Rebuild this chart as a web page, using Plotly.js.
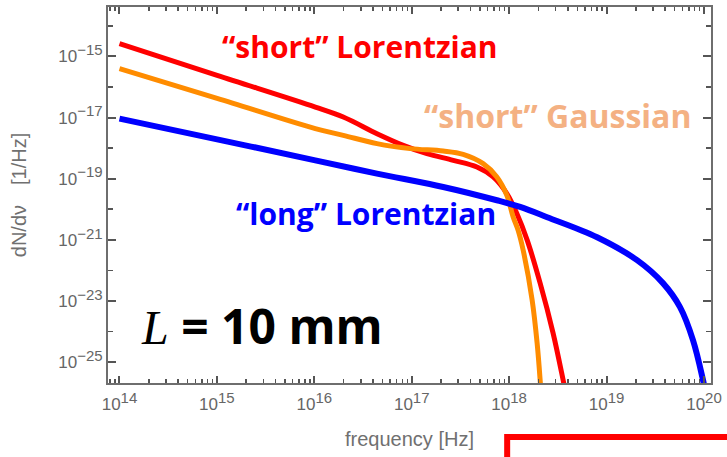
<!DOCTYPE html>
<html>
<head>
<meta charset="utf-8">
<script src="https://cdn.plot.ly/plotly-3.0.1.min.js"></script>
<style>html,body{margin:0;padding:0;background:#fff;}#chart{width:727px;height:457px;}</style>
</head>
<body>
<div id="chart"></div>
<script>
// ---- data (log10 frequency in Hz, log10 dN/dnu in 1/Hz) ----
const shortLorentzLogF = [14.0, 15.002, 16.010, 16.297, 16.643, 16.913, 17.156, 17.426, 17.669, 17.836, 17.976, 18.079, 18.185, 18.318, 18.451, 18.554, 18.585];
const shortLorentzLogY = [-14.58, -15.621, -16.657, -16.984, -17.526, -17.908, -18.180, -18.399, -18.618, -18.944, -19.487, -20.141, -21.01, -22.418, -24.052, -25.588, -26.08];

const shortGaussLogF = [14.0, 15.002, 16.010, 16.297, 16.643, 16.985, 17.323, 17.528, 17.733, 17.874, 17.976, 18.041, 18.092, 18.144, 18.236, 18.287, 18.318, 18.328];
const shortGaussLogY = [-15.402, -16.373, -17.363, -17.582, -17.853, -18.016, -18.095, -18.203, -18.507, -18.944, -19.542, -20.252, -20.686, -21.340, -22.974, -24.379, -25.588, -26.08];

const longLorentzLogF = [14.0, 15.002, 16.010, 16.643, 17.323, 17.874, 18.113, 18.390, 18.903, 19.313, 19.579, 19.754, 19.887, 19.990, 20.01];
const longLorentzLogY = [-17.036, -17.712, -18.399, -18.833, -19.271, -19.706, -19.925, -20.261, -20.915, -21.667, -22.418, -23.203, -24.281, -25.588, -25.9];

const seriesNames = ['“short” Lorentzian', '“short” Gaussian', '“long” Lorentzian'];

// tick labels (exponents of ten)
const xTickExp = [14, 15, 16, 17, 18, 19, 20];
const yTickExp = [-15, -17, -19, -21, -23, -25];

// ---- build ----
const pow10 = a => a.map(v => Math.pow(10, v));
const supFmt = e => '10<sup><span style="font-size:15px">' + String(e).replace('-', '−') + '</span></sup>';

// pixel -> paper helpers for text placement
const PL = 107.5, PT = 6.5, PW = 603.5, PH = 376.5;
const px = x => (x - PL) / PW;
const py = y => (PT + PH - y) / PH;

const traces = [
  {x: pow10(shortLorentzLogF), y: pow10(shortLorentzLogY), name: seriesNames[0], mode: 'lines',
   line: {color: '#FF0000', width: 5, shape: 'spline', smoothing: 1.0}},
  {x: pow10(shortGaussLogF), y: pow10(shortGaussLogY), name: seriesNames[1], mode: 'lines',
   line: {color: '#FF8C00', width: 5, shape: 'spline', smoothing: 1.0}},
  {x: pow10(longLorentzLogF), y: pow10(longLorentzLogY), name: seriesNames[2], mode: 'lines',
   line: {color: '#0000FF', width: 6, shape: 'spline', smoothing: 1.0}}
];

const tickFont = {family: 'Liberation Sans, Arial, sans-serif', size: 17, color: '#666666'};
const titleFont = {family: 'Liberation Sans, Arial, sans-serif', size: 20, color: '#707070'};

const layout = {
  width: 727, height: 457,
  margin: {l: PL, r: 727 - PL - PW, t: PT, b: 457 - PT - PH},
  paper_bgcolor: '#ffffff', plot_bgcolor: '#ffffff',
  showlegend: false,
  xaxis: {
    type: 'log', range: [13.882, 20.072], showgrid: false, zeroline: false,
    showline: true, linecolor: '#6e6e6e', linewidth: 2, mirror: 'ticks',
    ticks: 'inside', ticklen: 7, tickwidth: 2, tickcolor: '#555555', tickfont: tickFont,
    ticklabelstandoff: 5,
    tickmode: 'array', tickvals: pow10(xTickExp), ticktext: xTickExp.map(supFmt),
    minor: {ticks: 'inside', ticklen: 4, tickwidth: 1.5, tickcolor: '#555555', dtick: 'D1', showgrid: false},
    title: {text: 'frequency [Hz]', font: titleFont, standoff: 19}
  },
  yaxis: {
    type: 'log', range: [-25.686, -13.382], showgrid: false, zeroline: false,
    showline: true, linecolor: '#6e6e6e', linewidth: 2, mirror: 'ticks',
    ticks: 'inside', ticklen: 8, tickwidth: 2, tickcolor: '#555555', tickfont: tickFont,
    tickmode: 'array', tickvals: pow10(yTickExp), ticktext: yTickExp.map(supFmt),
    minor: {ticks: 'inside', ticklen: 5, tickwidth: 1.5, tickcolor: '#555555', dtick: 1, showgrid: false},
    title: {text: '\u2003dN/dν\u2002\u2002[1/Hz]', font: titleFont, standoff: 26}
  },
  annotations: [
    {xref: 'paper', yref: 'paper', x: px(360), y: py(46), xanchor: 'center', yanchor: 'middle', showarrow: false,
     text: '<b>' + seriesNames[0] + '</b>', font: {family: 'Open Sans, sans-serif', size: 30, color: '#FF0000'}},
    {xref: 'paper', yref: 'paper', x: px(557), y: py(115), xanchor: 'center', yanchor: 'middle', showarrow: false,
     text: '<b>' + seriesNames[1] + '</b>', font: {family: 'Open Sans, sans-serif', size: 32, color: '#F4B183'}},
    {xref: 'paper', yref: 'paper', x: px(366), y: py(213), xanchor: 'center', yanchor: 'middle', showarrow: false,
     text: '<b>' + seriesNames[2] + '</b>', font: {family: 'Open Sans, sans-serif', size: 30, color: '#0000FF'}},
    {xref: 'paper', yref: 'paper', x: px(262), y: py(325), xanchor: 'center', yanchor: 'middle', showarrow: false,
     text: '<span style="font-family:Liberation Serif;font-style:italic;font-weight:normal">L</span><b> = 10 mm</b>',
     font: {family: 'Open Sans, sans-serif', size: 48, color: '#000000'}}
  ],
  shapes: [
    {type: 'path', xref: 'paper', yref: 'paper',
     path: 'M ' + px(507) + ' ' + py(462) + ' L ' + px(507) + ' ' + py(437) + ' L ' + px(735) + ' ' + py(437),
     line: {color: '#FF0000', width: 6}}
  ]
};

Plotly.newPlot('chart', traces, layout, {staticPlot: true, displayModeBar: false});
</script>
</body>
</html>
